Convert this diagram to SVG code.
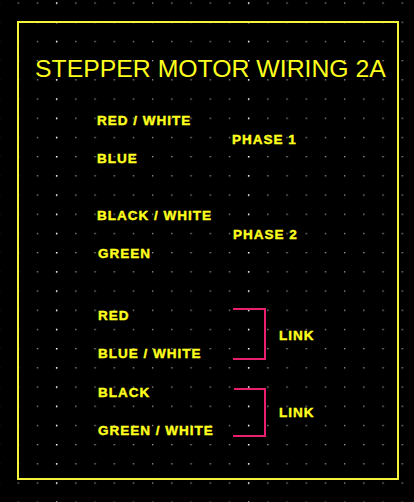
<svg xmlns="http://www.w3.org/2000/svg" width="414" height="502" viewBox="0 0 414 502">
  <defs>
    <pattern id="grid" patternUnits="userSpaceOnUse" x="17.6" y="2.4" width="19.2" height="19.2">
      <rect x="0" y="0" width="1.3" height="1.3" fill="#9a9a9a"/>
    </pattern>
    <pattern id="gridBright" patternUnits="userSpaceOnUse" x="55.9" y="2.4" width="192" height="19.2">
      <rect x="0" y="0" width="1.4" height="1.4" fill="#ffffff"/>
    </pattern>
  </defs>
  <style>
    .title { font-family: "Liberation Sans", Arial, sans-serif; font-size: 24.8px; fill: #ffff1e; }
    .lbl { font-family: "Liberation Sans", Arial, sans-serif; font-size: 13.5px; font-weight: bold; fill: #ffff1e; stroke: #ffff1e; stroke-width: 0.4px; letter-spacing: 1px; }
    .link { fill: none; stroke: #e8206e; stroke-width: 2; }
  </style>
  <rect width="414" height="502" fill="#000000"/>
  <rect width="414" height="502" fill="url(#grid)"/>
  <rect width="414" height="502" fill="url(#gridBright)"/>
  <rect id="frame" x="18" y="22" width="380" height="457" fill="none" stroke="#f4f43c" stroke-width="2"/>

  <g id="title"><text class="title" x="35" y="77">STEPPER MOTOR WIRING 2A</text></g>

  <g id="red-white"><text class="lbl" x="97" y="125">RED / WHITE</text></g>
  <g id="blue"><text class="lbl" x="97" y="163">BLUE</text></g>
  <g id="phase1"><text class="lbl" x="232" y="144">PHASE 1</text></g>

  <g id="black-white"><text class="lbl" x="97" y="220">BLACK / WHITE</text></g>
  <g id="green"><text class="lbl" x="98" y="258">GREEN</text></g>
  <g id="phase2"><text class="lbl" x="233" y="239">PHASE 2</text></g>

  <g id="red"><text class="lbl" x="98" y="320">RED</text></g>
  <g id="blue-white"><text class="lbl" x="98" y="358">BLUE / WHITE</text></g>
  <g id="link1"><text class="lbl" x="279" y="340">LINK</text></g>

  <g id="black"><text class="lbl" x="98" y="397">BLACK</text></g>
  <g id="green-white"><text class="lbl" x="98" y="435">GREEN / WHITE</text></g>
  <g id="link2"><text class="lbl" x="279" y="417">LINK</text></g>

  <g id="connectors">
    <polyline class="link" points="233,309 265,309 265,359 233,359"/>
    <polyline class="link" points="234,389 265,389 265,436 233,436"/>
  </g>
</svg>
